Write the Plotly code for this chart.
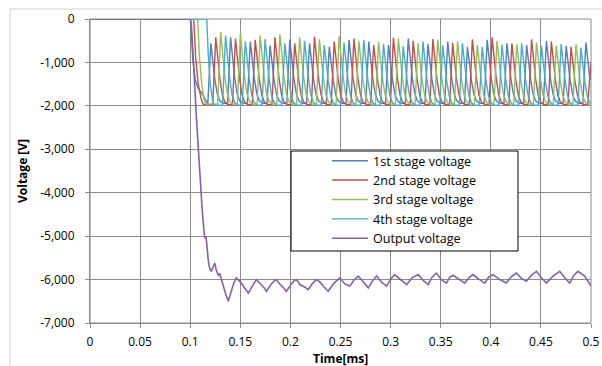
import plotly.graph_objects as go

# ---- Data -----------------------------------------------------------------
# Stage voltages: the initial drop after switch-on, then the peak time and
# peak voltage of each charge pulse.  Between pulses every stage sits at
# its floor voltage.
stage_names = ["1st stage voltage", "2nd stage voltage", "3rd stage voltage",
               "4th stage voltage"]
stage_colors = ["#4F81BD", "#C0504D", "#9BBB59", "#4BACC6"]

stage1_start_t = [0.0, 0.1005, 0.1025, 0.1050, 0.1080, 0.1120, 0.1150, 0.1170]
stage1_start_v = [0, 0, -900, -1400, -1600, -1720, -1850, -1940]
stage1_peak_t = [0.1206, 0.1403, 0.1600, 0.1797, 0.1994, 0.2191, 0.2388, 0.2585,
                 0.2782, 0.2979, 0.3176, 0.3373, 0.3570, 0.3767, 0.3964, 0.4161,
                 0.4358, 0.4555, 0.4752, 0.4949]
stage1_peak_v = [-560, -420, -520, -610, -470, -560, -640, -480, -520, -600,
                 -450, -580, -520, -640, -480, -560, -600, -500, -620, -540]
stage1_floor = -1940

stage2_start_t = [0.0, 0.1035, 0.1055, 0.1080, 0.1110, 0.1130]
stage2_start_v = [0, 0, -900, -1500, -1850, -1970]
stage2_peak_t = [0.1255, 0.1452, 0.1649, 0.1846, 0.2043, 0.2240, 0.2437, 0.2634,
                 0.2831, 0.3028, 0.3225, 0.3422, 0.3619, 0.3816, 0.4013,
                 0.4210, 0.4407, 0.4604, 0.4801, 0.4998]
stage2_peak_v = [-420, -450, -480, -420, -560, -410, -520, -450, -600, -430,
                 -500, -460, -550, -470, -420, -560, -470, -520, -640, -1000]
stage2_floor = -1970

stage3_start_t = [0.0, 0.1075, 0.1090, 0.1115, 0.1140, 0.1155]
stage3_start_v = [0, 0, -800, -1500, -1880, -1960]
stage3_peak_t = [0.1304, 0.1501, 0.1698, 0.1895, 0.2092, 0.2289, 0.2486, 0.2683,
                 0.2880, 0.3077, 0.3274, 0.3471, 0.3668, 0.3865, 0.4062, 0.4259,
                 0.4456, 0.4653, 0.4850]
stage3_peak_v = [-300, -330, -380, -350, -420, -470, -400, -500, -520, -450,
                 -560, -480, -520, -600, -500, -580, -540, -620, -580]
stage3_floor = -1960

stage4_start_t = [0.0, 0.1165, 0.1180, 0.1200, 0.1225, 0.1240]
stage4_start_v = [0, 0, -800, -1500, -1900, -1985]
stage4_peak_t = [0.1353, 0.1550, 0.1747, 0.1944, 0.2141, 0.2338, 0.2535, 0.2732,
                 0.2929, 0.3126, 0.3323, 0.3520, 0.3717, 0.3914, 0.4111, 0.4308,
                 0.4505, 0.4702, 0.4899]
stage4_peak_v = [-380, -520, -460, -560, -500, -600, -540, -480, -580, -620,
                 -520, -600, -560, -640, -590, -560, -620, -580, -660]
stage4_floor = -1985

# Output voltage (sum of the stages)
output_t = [0.0, 0.1000, 0.1012, 0.1025, 0.1040, 0.1060, 0.1080, 0.1100, 0.1120,
            0.1138, 0.1147, 0.1155, 0.1164, 0.1180, 0.1195, 0.1210, 0.1228,
            0.1246, 0.1260, 0.1272, 0.1280, 0.1295, 0.1310, 0.1328, 0.1346,
            0.1380, 0.1395, 0.1413, 0.1435, 0.1460, 0.1485, 0.1510, 0.1545,
            0.1580, 0.1620, 0.1660, 0.1685, 0.1710, 0.1735, 0.1760, 0.1785,
            0.1810, 0.1835, 0.1860, 0.1885, 0.1910, 0.1935, 0.1960, 0.1985,
            0.2010, 0.2035, 0.2060, 0.2094, 0.2135, 0.2177, 0.2220, 0.2260,
            0.2295, 0.2327, 0.2377, 0.2435, 0.2493, 0.2543, 0.2593, 0.2635,
            0.2677, 0.2727, 0.2777, 0.2820, 0.2860, 0.2910, 0.2960, 0.3000,
            0.3040, 0.3100, 0.3160, 0.3215, 0.3275, 0.3325, 0.3375, 0.3415,
            0.3457, 0.3507, 0.3557, 0.3590, 0.3623, 0.3689, 0.3740, 0.3780,
            0.3823, 0.3880, 0.3940, 0.3980, 0.4022, 0.4090, 0.4156, 0.4205,
            0.4256, 0.4306, 0.4355, 0.4405, 0.4455, 0.4505, 0.4555, 0.4620,
            0.4688, 0.4738, 0.4788, 0.4830, 0.4870, 0.4937, 0.5000]
output_v = [0, 0, -150, -600, -1300, -2200, -3000, -3750, -4400,
            -4900, -5050, -5000, -5150, -5550, -5750, -5810, -5700,
            -5620, -5780, -5850, -5900, -5860, -6000, -6150, -6270,
            -6500, -6380, -6230, -6080, -5960, -6020, -6080, -6200,
            -6310, -6150, -6000, -6060, -6120, -6180, -6270, -6180,
            -6100, -6040, -6000, -6080, -6130, -6200, -6270, -6170,
            -6100, -6030, -6000, -6115, -6160, -6230, -6090, -6000,
            -6060, -6150, -6270, -6080, -5960, -6100, -6150, -6010,
            -5920, -6050, -6190, -6030, -5920, -6060, -6150, -5990,
            -5885, -6000, -6115, -5960, -5885, -6020, -6115, -5940,
            -5850, -6000, -6080, -5950, -5900, -6000, -6080, -5960,
            -5885, -5990, -6080, -5940, -5885, -6000, -6080, -5930,
            -5850, -5970, -6040, -5900, -5810, -5960, -6080, -5920,
            -5810, -5960, -6080, -5900, -5810, -5920, -6150]

# Pulse outline relative to its peak: time offset [ms] and fraction of the
# swing between floor and peak.
pulse_dt = [-0.0030, -0.0012, 0.0, 0.0020, 0.0040, 0.0065, 0.0090, 0.0120]
pulse_frac = [0.0, 0.6, 1.0, 0.7, 0.4, 0.15, 0.04, 0.0]

x_ticks = [0, 0.05, 0.1, 0.15, 0.2, 0.25, 0.3, 0.35, 0.4, 0.45, 0.5]
x_labels = ["0", "0.05", "0.1", "0.15", "0.2", "0.25", "0.3", "0.35", "0.4",
            "0.45", "0.5"]
y_ticks = [0, -1000, -2000, -3000, -4000, -5000, -6000, -7000]
y_labels = ["0", "-1,000", "-2,000", "-3,000", "-4,000", "-5,000", "-6,000",
            "-7,000"]


def stage_trace(start_t, start_v, peak_t, peak_v, floor):
    t, v = list(start_t), list(start_v)
    for tp, vp in zip(peak_t, peak_v):
        for dt, f in zip(pulse_dt, pulse_frac):
            tt = tp + dt
            if tt <= t[-1]:
                continue
            if tt > 0.5:
                break
            t.append(tt)
            v.append(floor + f * (vp - floor))
    if t[-1] < 0.5:
        t.append(0.5)
        v.append(v[-1])
    return t, v


stages = [
    (stage1_start_t, stage1_start_v, stage1_peak_t, stage1_peak_v, stage1_floor),
    (stage2_start_t, stage2_start_v, stage2_peak_t, stage2_peak_v, stage2_floor),
    (stage3_start_t, stage3_start_v, stage3_peak_t, stage3_peak_v, stage3_floor),
    (stage4_start_t, stage4_start_v, stage4_peak_t, stage4_peak_v, stage4_floor),
]

# ---- Figure ---------------------------------------------------------------
FONT = "Open Sans"
fig = go.Figure()

for name, color, args in zip(stage_names, stage_colors, stages):
    t, v = stage_trace(*args)
    fig.add_trace(go.Scatter(x=t, y=v, mode="lines", name=name,
                             line=dict(color=color, width=1.4)))

fig.add_trace(go.Scatter(x=output_t, y=output_v, mode="lines",
                         name="Output voltage",
                         line=dict(color="#8064A2", width=1.6)))

grid = "#8c8c8c"
fig.update_xaxes(range=[0, 0.5], tickvals=x_ticks, ticktext=x_labels,
                 showgrid=True, automargin=False,
                 gridcolor=grid, gridwidth=1, showline=True, linecolor=grid,
                 ticks="outside", ticklen=4, tickcolor=grid, zeroline=False,
                 ticklabelstandoff=4,
                 tickfont=dict(family=FONT, size=12, color="#000"))
fig.update_yaxes(range=[-7000, 0], tickvals=y_ticks, ticktext=y_labels,
                 showgrid=True, automargin=False,
                 gridcolor=grid, gridwidth=1, showline=True,
                 linecolor=grid, ticks="outside", ticklen=4, tickcolor=grid,
                 zeroline=False, ticklabelstandoff=8,
                 tickfont=dict(family=FONT, size=12, color="#000"))

# right and top border of the plot area
fig.add_shape(type="rect", xref="paper", yref="paper", x0=0, y0=0, x1=1, y1=1,
              line=dict(color=grid, width=1), layer="below")

# legend frame
fig.add_shape(type="rect", xref="paper", yref="paper",
              x0=(291 - 90) / 501, x1=(518 - 90) / 501,
              y0=1 - (251 - 19) / 304, y1=1 - (151 - 19) / 304,
              line=dict(color="#000", width=1), fillcolor="#fff", layer="above")

# chart area outline
fig.add_shape(type="rect", xref="paper", yref="paper",
              x0=(10 - 90) / 501, x1=(640 - 90) / 501,
              y0=-(400 - 323) / 304, y1=1 + (19 - 9) / 304,
              line=dict(color="#d0d0d0", width=1), layer="below")

fig.add_annotation(text="<b>Voltage [V]</b>", textangle=-90, showarrow=False,
                   xref="paper", yref="paper", x=(22 - 90) / 501, y=0.5,
                   xanchor="center", yanchor="middle",
                   font=dict(family=FONT, size=12, color="#000"))
fig.add_annotation(text="<b>Time[ms]</b>", showarrow=False,
                   xref="paper", yref="paper", x=0.5, y=-(358 - 323) / 304,
                   xanchor="center", yanchor="middle",
                   font=dict(family=FONT, size=12, color="#000"))

fig.update_layout(
    width=602, height=366,
    margin=dict(l=90, r=11, t=19, b=43),
    paper_bgcolor="#fff", plot_bgcolor="#fff",
    showlegend=True,
    legend=dict(x=(327 - 90) / 501, y=1 - (146 - 19) / 304,
                xanchor="left", yanchor="top",
                bgcolor="rgba(0,0,0,0)", borderwidth=0,
                font=dict(family=FONT, size=12.6, color="#000"),
                itemwidth=36),
)

fig.write_html("out.html")
